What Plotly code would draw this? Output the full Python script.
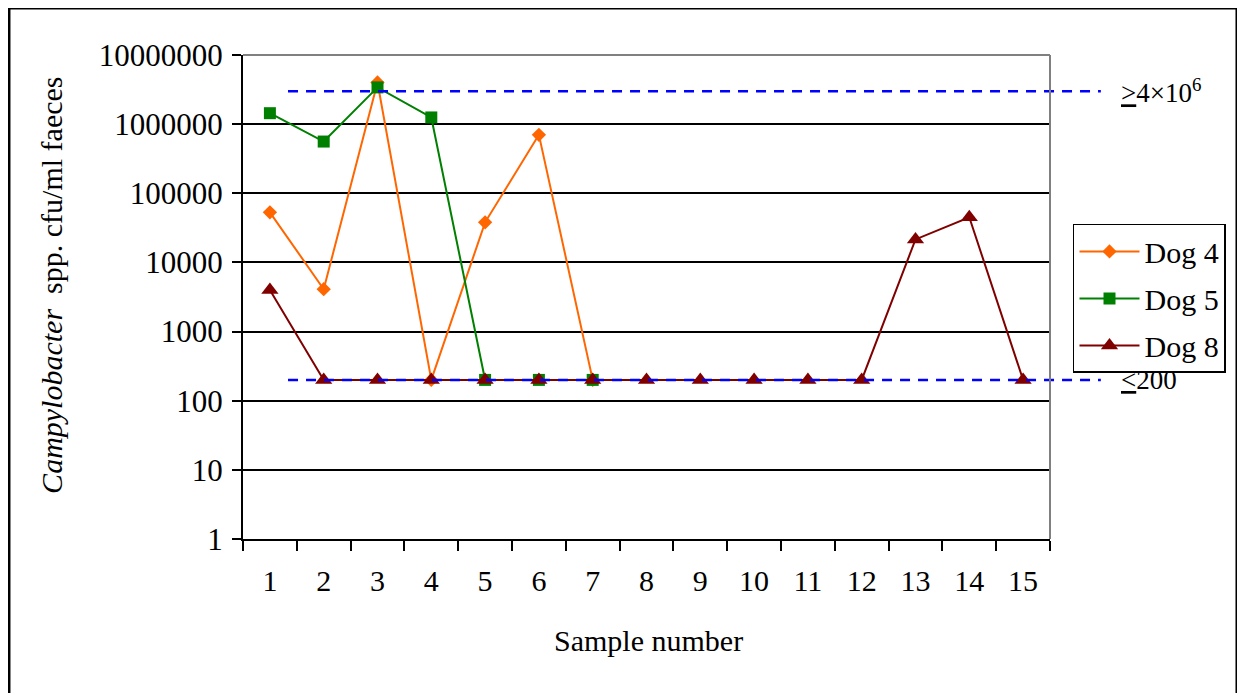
import math
import plotly.graph_objects as go

# ---- data ----
samples = ["1", "2", "3", "4", "5", "6", "7", "8", "9", "10", "11", "12", "13", "14", "15"]
dog4 = [53000, 4100, 4000000, 200, 38000, 700000, 200]
dog5 = [1440000, 560000, 3400000, 1250000, 200, 200, 200]
dog8 = [4000, 200, 200, 200, 200, 200, 200, 200, 200, 200, 200, 200, 21500, 45000, 200]

ytick_vals = [1, 10, 100, 1000, 10000, 100000, 1000000, 10000000]
ytick_text = ["1", "10", "100", "1000", "10000", "100000", "1000000", "10000000"]

upper_limit = 3000000
lower_limit = 200
upper_label = "<u>></u>4×10<sup>6</sup>"
lower_label = "<u><</u>200"

Y_RANGE = [0, 7]
FONT = "Liberation Serif"

fig = go.Figure()
fig.add_trace(go.Scatter(x=samples[:len(dog4)], y=dog4, name="Dog 4", mode="lines+markers",
                         line=dict(color="#FF6600", width=2),
                         marker=dict(symbol="diamond", size=11, color="#FF6600"),
                         legendgroup="a"))
fig.add_trace(go.Scatter(x=samples[:len(dog5)], y=dog5, name="Dog 5", mode="lines+markers",
                         line=dict(color="#008000", width=2),
                         marker=dict(symbol="square", size=12, color="#008000"),
                         legendgroup="b"))
fig.add_trace(go.Scatter(x=samples[:len(dog8)], y=dog8, name="Dog 8", mode="lines+markers",
                         line=dict(color="#800000", width=2),
                         marker=dict(symbol="triangle-up", size=15, color="#800000"),
                         legendgroup="c"))


def ypaper(v):
    return (math.log10(v) - Y_RANGE[0]) / (Y_RANGE[1] - Y_RANGE[0])


shapes = []
# threshold dashed lines (extend beyond plot area to the right)
for lim in (upper_limit, lower_limit):
    shapes.append(dict(type="line", xref="paper", yref="paper", x0=0.0558, x1=1.063,
                       y0=ypaper(lim), y1=ypaper(lim),
                       line=dict(color="#0000FF", width=2.5, dash="10px,8px")))
# grey top and right frame of plot area
shapes.append(dict(type="line", xref="paper", yref="paper", x0=0, x1=1, y0=1, y1=1,
                   line=dict(color="#808080", width=2)))
shapes.append(dict(type="line", xref="paper", yref="paper", x0=1, x1=1, y0=0, y1=1,
                   line=dict(color="#808080", width=2)))
# outer figure border
shapes.append(dict(type="rect", xref="paper", yref="paper", x0=-0.29, x1=1.2317,
                   y0=-0.4, y1=1.0971, line=dict(color="black", width=3)))

annotations = [
    dict(text=upper_label, xref="paper", yref="paper", x=1.086, y=ypaper(upper_limit),
         xanchor="left", yanchor="middle", showarrow=False,
         font=dict(family=FONT, size=27, color="black")),
    dict(text=lower_label, xref="paper", yref="paper", x=1.086, y=ypaper(lower_limit),
         xanchor="left", yanchor="middle", showarrow=False,
         font=dict(family=FONT, size=27, color="black")),
    dict(text="<i>Campylobacter</i>  spp. cfu/ml faeces", xref="paper", yref="paper",
         x=-0.2367, y=0.525, textangle=-90, xanchor="center", yanchor="middle",
         showarrow=False, font=dict(family=FONT, size=30, color="black")),
    dict(text="Sample number", xref="paper", yref="paper", x=0.502, y=-0.2087,
         xanchor="center", yanchor="middle", showarrow=False,
         font=dict(family=FONT, size=30, color="black")),
]

# page body has an 8px default margin, so offset the plot margins accordingly
fig.update_layout(
    width=1245, height=693,
    margin=dict(l=235, r=203, t=47, b=162),
    paper_bgcolor="white", plot_bgcolor="white",
    font=dict(family=FONT, color="black"),
    shapes=shapes, annotations=annotations,
    legend=dict(x=1.0285, y=0.651, xanchor="left", yanchor="top",
                bordercolor="black", borderwidth=1.5, bgcolor="white",
                font=dict(family=FONT, size=30, color="black"),
                tracegroupgap=5, itemwidth=60),
    showlegend=True,
)
fig.update_xaxes(type="category", categoryorder="array", categoryarray=samples,
                 range=[-0.5, len(samples) - 0.5],
                 tickson="boundaries", ticks="outside", ticklen=10, tickwidth=2,
                 tickcolor="black", showline=True, linecolor="black", linewidth=2,
                 showgrid=False, zeroline=False, ticklabelstandoff=14,
                 tickfont=dict(family=FONT, size=30, color="black"))
fig.update_yaxes(type="log", range=Y_RANGE, tickvals=ytick_vals, ticktext=ytick_text,
                 ticks="outside", ticklen=9, tickwidth=2, tickcolor="black",
                 showline=True, linecolor="black", linewidth=2,
                 showgrid=True, gridcolor="black", gridwidth=2, zeroline=False,
                 ticklabelstandoff=3,
                 tickfont=dict(family=FONT, size=31, color="black"))

fig.write_html("out.html")
